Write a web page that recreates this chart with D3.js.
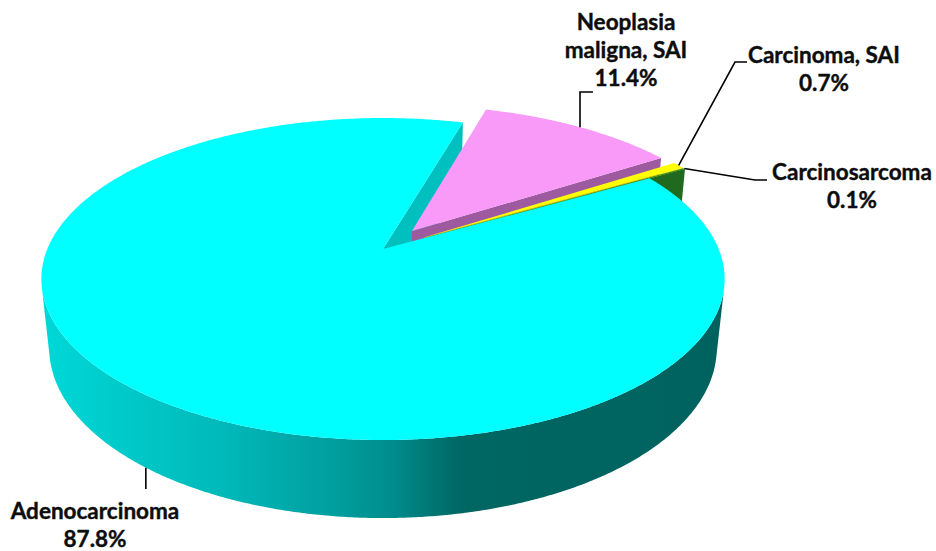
<!DOCTYPE html>
<html><head><meta charset="utf-8">
<script src="https://cdn.jsdelivr.net/npm/d3@7"></script>
<style>html,body{margin:0;padding:0;background:#fff;} svg{display:block;}</style>
</head><body>
<svg id="chart" width="936" height="551"></svg>
<script>
// ---- data ----
const categories = ["Neoplasia maligna, SAI", "Carcinoma, SAI", "Carcinosarcoma", "Adenocarcinoma"];
const values = [11.4, 0.7, 0.1, 87.8];
const labelNames = [["Neoplasia", "maligna, SAI"], ["Carcinoma, SAI"], ["Carcinosarcoma"], ["Adenocarcinoma"]];
const percentLabels = ["11.4%", "0.7%", "0.1%", "87.8%"];
const exploded = [true, true, true, false];

// ---- styles ----
const topColors = ["#F99AF9", "#FFFF00", "#2C862C", "#00FFFF"];
const wallColors = ["#9E5A9E", "#D6D600", "#1F6A1F", "#00BFBF"];

// ---- layout ----
const svg = d3.select("#chart");
const cam = {cx: 383, cy: 249, f: 1596, D: 4.755, tilt: Math.asin(0.463)};
const sT = Math.sin(cam.tilt), cT = Math.cos(cam.tilt);
const thick = 0.234, explodeDist = 0.147;
const rot = 16.3 * Math.PI / 180;
const camPos = {u: 0, h: cam.D * sT, v: cam.D * cT};

function depth(p) { return cam.D - (p.h * sT + p.v * cT); }
function proj(p) { const d = depth(p); return [cam.cx + cam.f * p.u / d, cam.cy - cam.f * (p.h * cT - p.v * sT) / d]; }
function pt(off, th, r, h) { return {u: off.u + r * Math.sin(th), v: off.v - r * Math.cos(th), h: h}; }
function facing(nu, nv, p) { return nu * (camPos.u - p.u) + nv * (camPos.v - p.v) > 0; }
const line = d3.line().x(d => d[0]).y(d => d[1]);
function pathOf(pts) { return line(pts.map(proj)) + "Z"; }
function avgDepth(pts) { return d3.mean(pts, depth); }

const arcs = d3.pie().sort(null).value(d => d).startAngle(rot).endAngle(rot + 2 * Math.PI)(values);

// gradient for the big slice outer wall
const defs = svg.append("defs");
const grad = defs.append("linearGradient").attr("id", "cyanSide")
  .attr("gradientUnits", "userSpaceOnUse").attr("x1", 40).attr("x2", 723).attr("y1", 0).attr("y2", 0);
[[0, "#00D8D8"], [0.274, "#00B8B8"], [0.42, "#00A0A0"], [0.517, "#008C8C"], [0.615, "#006763"], [1, "#00625E"]]
  .forEach(s => grad.append("stop").attr("offset", s[0]).attr("stop-color", s[1]));

const walls = [], tops = [];
arcs.forEach((a, i) => {
  const a0 = a.startAngle, a1 = a.endAngle, mid = (a0 + a1) / 2;
  const e = exploded[i] ? explodeDist : 0;
  const off = {u: e * Math.sin(mid), v: -e * Math.cos(mid)};
  const n = Math.max(4, Math.ceil((a1 - a0) / (0.4 * Math.PI / 180)));
  const ths = d3.range(n + 1).map(k => a0 + (a1 - a0) * k / n);
  const apexT = {u: off.u, v: off.v, h: 0}, apexB = {u: off.u, v: off.v, h: -thick};
  tops.push({pts: [apexT].concat(ths.map(t => pt(off, t, 1, 0))), fill: topColors[i], i});
  [[a0, -1], [a1, 1]].forEach(([t, sg]) => {
    const pts = [apexT, pt(off, t, 1, 0), pt(off, t, 1, -thick), apexB];
    const m = pt(off, t, 0.5, -thick / 2);
    if (facing(sg * Math.cos(t), sg * Math.sin(t), m)) walls.push({pts, fill: wallColors[i], d: avgDepth(pts)});
  });
  let run = [];
  const flush = () => {
    if (run.length > 1) {
      const pts = run.map(t => pt(off, t, 1, 0)).concat(run.slice().reverse().map(t => pt(off, t, 1, -thick)));
      walls.push({pts, fill: i === 3 ? "url(#cyanSide)" : wallColors[i], d: avgDepth(pts)});
    }
    run = [];
  };
  ths.forEach(t => {
    const p = pt(off, t, 1, -thick / 2);
    if (facing(Math.sin(t), -Math.cos(t), p)) run.push(t); else flush();
  });
  flush();
  a.off = off;
});

walls.sort((x, y) => y.d - x.d);
const g = svg.append("g");
g.selectAll("path.wall").data(walls).join("path").attr("class", "wall")
  .attr("d", d => pathOf(d.pts)).attr("fill", d => d.fill);
g.selectAll("path.top").data(tops).join("path").attr("class", "top")
  .attr("d", d => pathOf(d.pts)).attr("fill", d => d.fill);

// ---- labels ----
const labelPos = [{x: 626, y: 30}, {x: 824, y: 63}, {x: 852, y: 180}, {x: 95, y: 519}];
const lineH = 28;
const leaderEnds = [
  (p) => [[p[0], 92], [593, 92]],
  (p) => [[735, 62], [747, 62]],
  (p) => [[755, 180], [767, 180]],
  (p) => [[p[0], 489]]
];
arcs.forEach((a, i) => {
  const mid = (a.startAngle + a.endAngle) / 2;
  const anchor = proj(pt(a.off, mid, 1, i === 3 ? -thick : 0));
  const pts = [anchor].concat(leaderEnds[i](anchor));
  svg.append("path").attr("d", line(pts)).attr("fill", "none").attr("stroke", "#000").attr("stroke-width", 1.6);
  const lines = labelNames[i].concat([percentLabels[i]]);
  const t = svg.append("text").attr("text-anchor", "middle")
    .attr("font-family", "Lato, 'Open Sans', sans-serif").attr("font-weight", "bold").attr("font-size", 22.5)
    .attr("fill", "#0d0d0d").attr("stroke", "#0d0d0d").attr("stroke-width", 0.4);
  lines.forEach((s, k) => t.append("tspan").attr("x", labelPos[i].x).attr("y", labelPos[i].y + k * lineH).text(s));
});
</script>
</body></html>
